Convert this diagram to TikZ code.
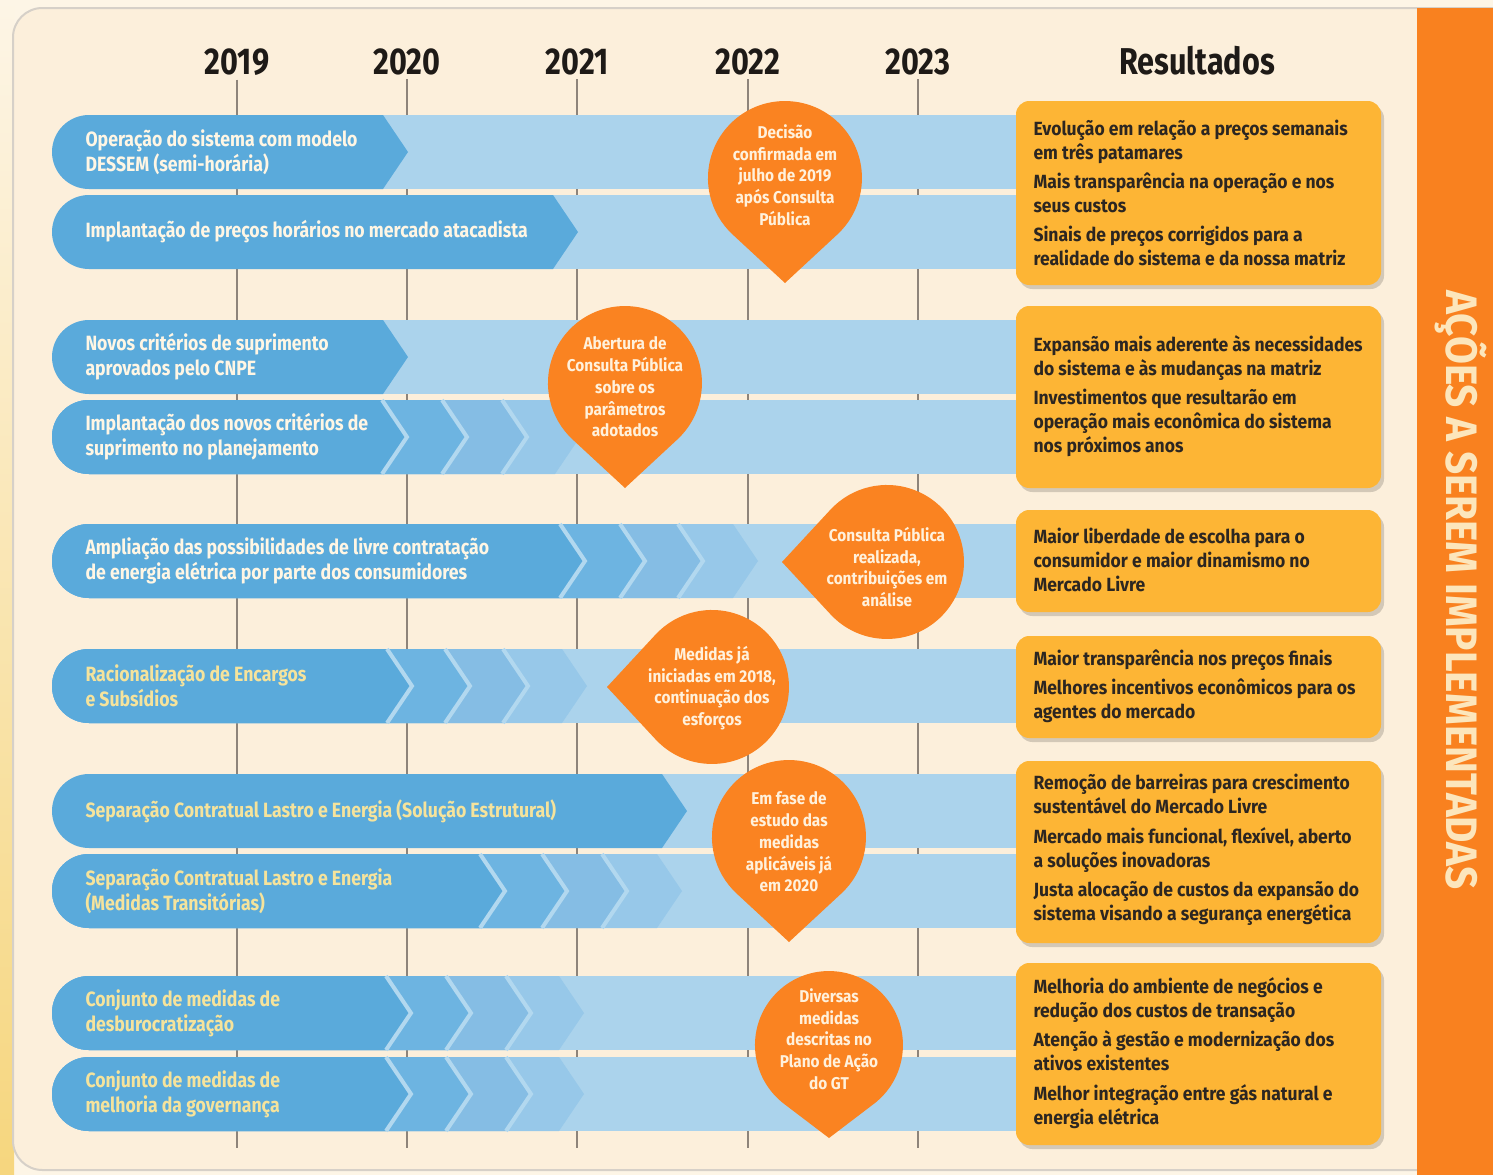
\documentclass[tikz,border=0pt]{standalone}
\usepackage{fontspec}
\setmainfont{Fira Sans}
\newfontfamily\barfont{Fira Sans}[FakeStretch=0.855]
\newfontfamily\yearfont{Fira Sans}[FakeStretch=0.82]
\newfontfamily\resfont{Fira Sans}[FakeStretch=0.92]
\newfontfamily\pinfont{Fira Sans}[FakeStretch=0.9]

\definecolor{pagebg}{HTML}{FDF5E6}
\definecolor{panelbg}{HTML}{FCEFDB}
\definecolor{panelborder}{HTML}{D6D0C8}
\definecolor{edgeyellow}{HTML}{F6D67E}
\definecolor{gridgray}{HTML}{8E847A}
\definecolor{inkblack}{HTML}{1E1A17}
\definecolor{inkdark}{HTML}{2C2621}
\definecolor{lightbar}{HTML}{ABD3EC}
\definecolor{segA}{HTML}{5AAADB}
\definecolor{segB}{HTML}{6DB4E1}
\definecolor{segC}{HTML}{85BDE4}
\definecolor{segD}{HTML}{97C8E9}
\definecolor{stripeblue}{HTML}{B2D8EF}
\definecolor{barcream}{HTML}{FFF6E4}
\definecolor{baryellow}{HTML}{F5E39C}
\definecolor{pinorange}{HTML}{FA8321}
\definecolor{pincream}{HTML}{FFF1DC}
\definecolor{resyellow}{HTML}{FDB535}
\definecolor{sidebar}{HTML}{F9811F}
\definecolor{titlecream}{HTML}{FCE6BC}

\tikzset{every picture/.style={line width=0.75pt}}
\tikzset{
	gridline/.style={draw=gridgray, line width=1.5},
	yearlabel/.style={anchor=base, inner sep=0, font=\yearfont\bfseries\fontsize{28}{30}\selectfont, text=inkblack},
	bartext/.style={anchor=west, align=left, inner sep=0, font=\barfont\bfseries\fontsize{15.5}{18.75}\selectfont, text=barcream},
	bartextyellow/.style={bartext, text=baryellow},
	pintext/.style={align=center, inner sep=0, font=\pinfont\bfseries\fontsize{12.8}{16.3}\selectfont, text=pincream},
	restext/.style={anchor=west, align=left, inner sep=0, font=\resfont\bfseries\fontsize{14.3}{18}\selectfont, text=inkdark},
	pin/.style={fill=pinorange},
	resbox/.style={fill=resyellow, rounded corners=10},
	resshadow/.style={fill=black, opacity=0.16, rounded corners=10},
	stripe/.style={draw=stripeblue, line width=3},
}

\begin{document}
\begin{tikzpicture}[x=0.75pt,y=0.75pt,yscale=-1,xscale=1]
	\useasboundingbox (0,0) rectangle (1493,1175);

	%Shape: Rectangle [page background]
	\fill[pagebg] (0,0) rectangle (1493,1175);
	\shade[top color=pagebg, bottom color=edgeyellow] (0,0) rectangle (14,1175);
	%Shape: Rounded Rectangle [panel]
	\draw[fill=panelbg, draw=panelborder, line width=1.5, rounded corners=22] (13,8) rectangle (1540,1170);
	%Shape: Rectangle [side bar]
	\fill[sidebar] (1417,8) rectangle (1493,1175);

	% Text Node
	\draw (237,74) node[yearlabel] (y2019) {2019};
	% Text Node
	\draw (407,74) node[yearlabel] (y2020) {2020};
	% Text Node
	\draw (577,74) node[yearlabel] (y2021) {2021};
	% Text Node
	\draw (748,74) node[yearlabel] (y2022) {2022};
	% Text Node
	\draw (918,74) node[yearlabel] (y2023) {2023};
	% Text Node
	\draw (1197,74) node[yearlabel] (results) {Resultados};

	\coordinate (gridbottom) at (0,1148);
	%Straight Lines [year grid]
	\draw[gridline] (y2019.south) ++(0,4) -- (y2019.south |- gridbottom);
	\draw[gridline] (y2020.south) ++(0,4) -- (y2020.south |- gridbottom);
	\draw[gridline] (y2021.south) ++(0,4) -- (y2021.south |- gridbottom);
	\draw[gridline] (y2022.south) ++(0,4) -- (y2022.south |- gridbottom);
	\draw[gridline] (y2023.south) ++(0,4) -- (y2023.south |- gridbottom);

	%Shape: Bar [DESSEM]
	\fill[lightbar] (89,115) rectangle (1020,189);
	\fill[segA] (89,115) -- (383,115) -- (408,152) -- (383,189) -- (89,189) arc[start angle=90,end angle=270,radius=37] -- cycle;
	%Shape: Bar [precos horarios]
	\fill[lightbar] (89,195) rectangle (1020,269);
	\fill[segA] (89,195) -- (553,195) -- (578,232) -- (553,269) -- (89,269) arc[start angle=90,end angle=270,radius=37] -- cycle;
	%Shape: Bar [criterios CNPE]
	\fill[lightbar] (89,320) rectangle (1020,394);
	\fill[segA] (89,320) -- (383,320) -- (408,357) -- (383,394) -- (89,394) arc[start angle=90,end angle=270,radius=37] -- cycle;
	%Shape: Bar [criterios planejamento]
	\fill[lightbar] (89,400) rectangle (1020,474);
	\fill[segD] (89,400) -- (555,400) -- (580,437) -- (555,474) -- (89,474) arc[start angle=90,end angle=270,radius=37] -- cycle;
	\fill[segC] (89,400) -- (502,400) -- (527,437) -- (502,474) -- (89,474) arc[start angle=90,end angle=270,radius=37] -- cycle;
	\fill[segB] (89,400) -- (442,400) -- (467,437) -- (442,474) -- (89,474) arc[start angle=90,end angle=270,radius=37] -- cycle;
	\fill[segA] (89,400) -- (382,400) -- (407,437) -- (382,474) -- (89,474) arc[start angle=90,end angle=270,radius=37] -- cycle;
	\draw[stripe] (382,400) -- (407,437) -- (382,474);
	\draw[stripe] (442,400) -- (467,437) -- (442,474);
	\draw[stripe] (502,400) -- (527,437) -- (502,474);
	%Shape: Bar [livre contratacao]
	\fill[lightbar] (89,524) rectangle (1020,598);
	\fill[segD] (89,524) -- (733,524) -- (758,561) -- (733,598) -- (89,598) arc[start angle=90,end angle=270,radius=37] -- cycle;
	\fill[segC] (89,524) -- (678,524) -- (703,561) -- (678,598) -- (89,598) arc[start angle=90,end angle=270,radius=37] -- cycle;
	\fill[segB] (89,524) -- (620,524) -- (645,561) -- (620,598) -- (89,598) arc[start angle=90,end angle=270,radius=37] -- cycle;
	\fill[segA] (89,524) -- (560,524) -- (585,561) -- (560,598) -- (89,598) arc[start angle=90,end angle=270,radius=37] -- cycle;
	\draw[stripe] (560,524) -- (585,561) -- (560,598);
	\draw[stripe] (620,524) -- (645,561) -- (620,598);
	\draw[stripe] (678,524) -- (703,561) -- (678,598);
	%Shape: Bar [encargos]
	\fill[lightbar] (89,649) rectangle (1020,723);
	\fill[segD] (89,649) -- (562,649) -- (587,686) -- (562,723) -- (89,723) arc[start angle=90,end angle=270,radius=37] -- cycle;
	\fill[segC] (89,649) -- (503,649) -- (528,686) -- (503,723) -- (89,723) arc[start angle=90,end angle=270,radius=37] -- cycle;
	\fill[segB] (89,649) -- (445,649) -- (470,686) -- (445,723) -- (89,723) arc[start angle=90,end angle=270,radius=37] -- cycle;
	\fill[segA] (89,649) -- (387,649) -- (412,686) -- (387,723) -- (89,723) arc[start angle=90,end angle=270,radius=37] -- cycle;
	\draw[stripe] (387,649) -- (412,686) -- (387,723);
	\draw[stripe] (445,649) -- (470,686) -- (445,723);
	\draw[stripe] (503,649) -- (528,686) -- (503,723);
	%Shape: Bar [solucao estrutural]
	\fill[lightbar] (89,774) rectangle (1020,848);
	\fill[segA] (89,774) -- (662,774) -- (687,811) -- (662,848) -- (89,848) arc[start angle=90,end angle=270,radius=37] -- cycle;
	%Shape: Bar [medidas transitorias]
	\fill[lightbar] (89,854) rectangle (1020,928);
	\fill[segD] (89,854) -- (657,854) -- (682,891) -- (657,928) -- (89,928) arc[start angle=90,end angle=270,radius=37] -- cycle;
	\fill[segC] (89,854) -- (602,854) -- (627,891) -- (602,928) -- (89,928) arc[start angle=90,end angle=270,radius=37] -- cycle;
	\fill[segB] (89,854) -- (542,854) -- (567,891) -- (542,928) -- (89,928) arc[start angle=90,end angle=270,radius=37] -- cycle;
	\fill[segA] (89,854) -- (480,854) -- (505,891) -- (480,928) -- (89,928) arc[start angle=90,end angle=270,radius=37] -- cycle;
	\draw[stripe] (480,854) -- (505,891) -- (480,928);
	\draw[stripe] (542,854) -- (567,891) -- (542,928);
	\draw[stripe] (602,854) -- (627,891) -- (602,928);
	%Shape: Bar [desburocratizacao]
	\fill[lightbar] (89,976) rectangle (1020,1050);
	\fill[segD] (89,976) -- (559,976) -- (584,1013) -- (559,1050) -- (89,1050) arc[start angle=90,end angle=270,radius=37] -- cycle;
	\fill[segC] (89,976) -- (506,976) -- (531,1013) -- (506,1050) -- (89,1050) arc[start angle=90,end angle=270,radius=37] -- cycle;
	\fill[segB] (89,976) -- (446,976) -- (471,1013) -- (446,1050) -- (89,1050) arc[start angle=90,end angle=270,radius=37] -- cycle;
	\fill[segA] (89,976) -- (386,976) -- (411,1013) -- (386,1050) -- (89,1050) arc[start angle=90,end angle=270,radius=37] -- cycle;
	\draw[stripe] (386,976) -- (411,1013) -- (386,1050);
	\draw[stripe] (446,976) -- (471,1013) -- (446,1050);
	\draw[stripe] (506,976) -- (531,1013) -- (506,1050);
	%Shape: Bar [governanca]
	\fill[lightbar] (89,1057) rectangle (1020,1131);
	\fill[segD] (89,1057) -- (559,1057) -- (584,1094) -- (559,1131) -- (89,1131) arc[start angle=90,end angle=270,radius=37] -- cycle;
	\fill[segC] (89,1057) -- (506,1057) -- (531,1094) -- (506,1131) -- (89,1131) arc[start angle=90,end angle=270,radius=37] -- cycle;
	\fill[segB] (89,1057) -- (446,1057) -- (471,1094) -- (446,1131) -- (89,1131) arc[start angle=90,end angle=270,radius=37] -- cycle;
	\fill[segA] (89,1057) -- (386,1057) -- (411,1094) -- (386,1131) -- (89,1131) arc[start angle=90,end angle=270,radius=37] -- cycle;
	\draw[stripe] (386,1057) -- (411,1094) -- (386,1131);
	\draw[stripe] (446,1057) -- (471,1094) -- (446,1131);
	\draw[stripe] (506,1057) -- (531,1094) -- (506,1131);

	% Text Node
	\draw (85,152) node[bartext] (dessem) {Operação do sistema com modelo\\DESSEM (semi-horária)};
	% Text Node
	\draw (85,232) node[bartext] (hourly) {Implantação de preços horários no mercado atacadista};
	% Text Node
	\draw (85,357) node[bartext] (cnpe) {Novos critérios de suprimento\\aprovados pelo CNPE};
	% Text Node
	\draw (85,437) node[bartext] (planning) {Implantação dos novos critérios de\\suprimento no planejamento};
	% Text Node
	\draw (85,561) node[bartext] (freemarket) {Ampliação das possibilidades de livre contratação\\de energia elétrica por parte dos consumidores};
	% Text Node
	\draw (85,686) node[bartextyellow] (charges) {Racionalização de Encargos\\e Subsídios};
	% Text Node
	\draw (85,811) node[bartextyellow] (structural) {Separação Contratual Lastro e Energia (Solução Estrutural)};
	% Text Node
	\draw (85,891) node[bartextyellow] (transitional) {Separação Contratual Lastro e Energia\\(Medidas Transitórias)};
	% Text Node
	\draw (85,1013) node[bartextyellow] (deburo) {Conjunto de medidas de\\desburocratização};
	% Text Node
	\draw (85,1094) node[bartextyellow] (governance) {Conjunto de medidas de\\melhoria da governança};

	%Shape: Pin [decisao]
	\fill[pin, shift={(785,178)}] (0,105) -- (52.3,56.5) arc[start angle=47.17,end angle=-227.17,radius=77] -- cycle;
	%Shape: Pin [abertura]
	\fill[pin, shift={(625,383)}] (0,105) -- (52.3,56.5) arc[start angle=47.17,end angle=-227.17,radius=77] -- cycle;
	%Shape: Pin [consulta realizada]
	\fill[pin, shift={(887,562)}, rotate=90] (0,105) -- (52.3,56.5) arc[start angle=47.17,end angle=-227.17,radius=77] -- cycle;
	%Shape: Pin [medidas 2018]
	\fill[pin, shift={(712,687)}, rotate=90] (0,105) -- (52.3,56.5) arc[start angle=47.17,end angle=-227.17,radius=77] -- cycle;
	%Shape: Pin [fase de estudo]
	\fill[pin, shift={(789,837)}] (0,105) -- (52.3,56.5) arc[start angle=47.17,end angle=-227.17,radius=77] -- cycle;
	%Shape: Pin [plano de acao]
	\fill[pin, shift={(829,1045)}] (0,93) -- (44.8,58.9) arc[start angle=52.7,end angle=-232.7,radius=74] -- cycle;

	% Text Node
	\draw (785,175) node[pintext] (pindecision) {Decisão\\confirmada em\\julho de 2019\\após Consulta\\Pública};
	% Text Node
	\draw (625,387) node[pintext] (pinopening) {Abertura de\\Consulta Pública\\sobre os\\parâmetros\\adotados};
	% Text Node
	\draw (887,567) node[pintext] (pinconsult) {Consulta Pública\\realizada,\\contribuições em\\análise};
	% Text Node
	\draw (712,688) node[pintext] (pinmeasures) {Medidas já\\iniciadas em 2018,\\continuação dos\\esforços};
	% Text Node
	\draw (789,842) node[pintext] (pinstudy) {Em fase de\\estudo das\\medidas\\aplicáveis já\\em 2020};
	% Text Node
	\draw (829,1039) node[pintext] (pinplan) {Diversas\\medidas\\descritas no\\Plano de Ação\\do GT};

	%Shape: Rounded Rectangle [result boxes]
	\fill[resshadow] (1019,105) rectangle (1384,289);
	\fill[resbox] (1016,101) rectangle (1381,285);
	\fill[resshadow] (1019,310) rectangle (1384,492);
	\fill[resbox] (1016,306) rectangle (1381,488);
	\fill[resshadow] (1019,514) rectangle (1384,616);
	\fill[resbox] (1016,510) rectangle (1381,612);
	\fill[resshadow] (1019,640) rectangle (1384,742);
	\fill[resbox] (1016,636) rectangle (1381,738);
	\fill[resshadow] (1019,765) rectangle (1384,947);
	\fill[resbox] (1016,761) rectangle (1381,943);
	\fill[resshadow] (1019,967) rectangle (1384,1149);
	\fill[resbox] (1016,963) rectangle (1381,1145);

	% Text Node
	\draw (1033,193) node[restext] (resprices) {Evolução em relação a preços semanais\\em três patamares\\[4pt]Mais transparência na operação e nos\\seus custos\\[4pt]Sinais de preços corrigidos para a\\realidade do sistema e da nossa matriz};
	% Text Node
	\draw (1033,396) node[restext] (resexpansion) {Expansão mais aderente às necessidades\\do sistema e às mudanças na matriz\\[4pt]Investimentos que resultarão em\\operação mais econômica do sistema\\nos próximos anos};
	% Text Node
	\draw (1033,560) node[restext] (resfreedom) {Maior liberdade de escolha para o\\consumidor e maior dinamismo no\\Mercado Livre};
	% Text Node
	\draw (1033,686) node[restext] (restransparency) {Maior transparência nos preços finais\\[4pt]Melhores incentivos econômicos para os\\agentes do mercado};
	% Text Node
	\draw (1033,850) node[restext] (resbarriers) {Remoção de barreiras para crescimento\\sustentável do Mercado Livre\\[4pt]Mercado mais funcional, flexível, aberto\\a soluções inovadoras\\[4pt]Justa alocação de custos da expansão do\\sistema visando a segurança energética};
	% Text Node
	\draw (1033,1053) node[restext] (resbusiness) {Melhoria do ambiente de negócios e\\redução dos custos de transação\\[4pt]Atenção à gestão e modernização dos\\ativos existentes\\[4pt]Melhor integração entre gás natural e\\energia elétrica};

	% Text Node
	\draw (1461,590) node[rotate=-90, inner sep=0, font=\resfont\bfseries\fontsize{33}{36}\selectfont, text=titlecream] (sidetitle) {AÇÕES A SEREM IMPLEMENTADAS};

\end{tikzpicture}
\end{document}
